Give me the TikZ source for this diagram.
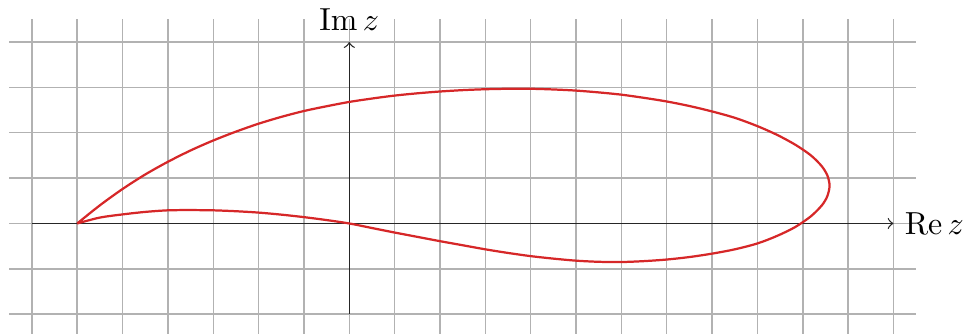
\documentclass[tikz,border=0pt]{standalone}
\usepackage{amsmath}
\definecolor{curvered}{RGB}{214,39,40}
\tikzset{
  gridline/.style={gray!60, line width=0.45pt},
  axisline/.style={black!85, line width=0.4pt, ->},
  airfoil/.style={curvered, line width=0.7pt, line join=round},
}
\begin{document}
\begin{tikzpicture}[x=0.5cm,y=0.5cm]
\useasboundingbox (-7.702,-2.415) rectangle (13.554,4.928);
\draw[gridline, step=0.5cm] (-7.5,-2.5) grid (12.5,4.5);
\coordinate (xs) at (-7,0);
\coordinate (xe) at (12,0);
\coordinate (ys) at (0,-2);
\coordinate (ye) at (0,4);
\draw[axisline] (xs) -- (xe);
\draw[axisline] (ys) -- (ye);
\node[right] (re) at (xe) {$\mathrm{Re}\,z$};
\node[above] (im) at (ye) {$\mathrm{Im}\,z$};
\draw[airfoil] plot[smooth] coordinates {
 (-6,0) (-5.5,0.40) (-5,0.76) (-4.5,1.08) (-4,1.36) (-3.5,1.61) (-3,1.83)
 (-2.5,2.025) (-2,2.20) (-1.5,2.35) (-1,2.48) (-0.5,2.585) (0,2.68)
 (0.5,2.755) (1,2.82) (1.5,2.87) (2,2.91) (2.5,2.94) (3,2.96) (3.5,2.97)
 (4,2.97) (4.5,2.955) (5,2.93) (5.5,2.89) (6,2.84) (6.5,2.77) (7,2.69)
 (7.5,2.59) (8,2.47) (8.5,2.33) (8.99,2.15) (9.44,1.95) (9.845,1.73)
 (10.18,1.50) (10.42,1.26) (10.545,1.05) (10.59,0.83) (10.54,0.60)
 (10.42,0.40) (10.18,0.16) (9.83,-0.08) (9.43,-0.275) (9,-0.44)
 (8.5,-0.57) (8,-0.665) (7.5,-0.74) (7,-0.795) (6.5,-0.83) (6,-0.85)
 (5.5,-0.845) (5,-0.82) (4.5,-0.775) (4,-0.72) (3.5,-0.65) (3,-0.57)
 (2.5,-0.48) (2,-0.39) (1.5,-0.295) (1,-0.20) (0.5,-0.10) (0,0)
 (-0.5,0.075) (-1,0.14) (-1.5,0.195) (-2,0.24) (-2.5,0.27) (-3,0.29)
 (-3.5,0.295) (-4,0.29) (-4.5,0.255) (-5,0.20) (-5.5,0.13) (-6,0)};
\end{tikzpicture}
\end{document}
